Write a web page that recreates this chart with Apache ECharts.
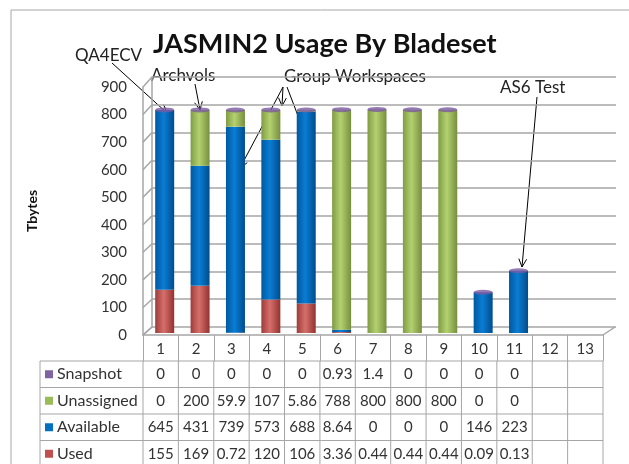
<!DOCTYPE html>
<html>
<head>
<meta charset="utf-8">
<script src="https://cdn.jsdelivr.net/npm/echarts@6/dist/echarts.min.js"></script>
<style>
html, body { margin: 0; padding: 0; background: #fff; }
#main { width: 629px; height: 464px; }
</style>
</head>
<body>
<div id="main"></div>
<script>
var chart = echarts.init(document.getElementById('main'));

var bladesets = ['1','2','3','4','5','6','7','8','9','10','11','12','13'];
var snapshot    = [0, 0, 0, 0, 0, 0.93, 1.4, 0, 0, 0, 0];
var unassigned  = [0, 200, 59.9, 107, 5.86, 788, 800, 800, 800, 0, 0];
var available   = [645, 431, 739, 573, 688, 8.64, 0, 0, 0, 146, 223];
var used        = [155, 169, 0.72, 120, 106, 3.36, 0.44, 0.44, 0.44, 0.09, 0.13];
var yTicks = [0, 100, 200, 300, 400, 500, 600, 700, 800, 900];

var FONT = 'Lato';
var GRAY = '#a6a6a6';
var TXT = '#333';

// totals for the top of each cylinder
var totals = [];
for (var i = 0; i < used.length; i++) {
    totals.push([i, used[i] + available[i] + unassigned[i] + snapshot[i]]);
}

function cyl(dark, light, dark2) {
    return new echarts.graphic.LinearGradient(0, 0, 1, 0, [
        {offset: 0, color: dark},
        {offset: 0.45, color: light},
        {offset: 1, color: dark2}
    ]);
}

// table below the plot
var tableLeft = 40, colStart = 143, colW = 460 / 13, rowTop = 361, rowH = 26.5;
var rows = [
    {name: 'Snapshot', color: '#8064A2', data: snapshot},
    {name: 'Unassigned', color: '#9BBB59', data: unassigned},
    {name: 'Available', color: '#0070C0', data: available},
    {name: 'Used', color: '#C0504D', data: used}
];
var graphics = [];
graphics.push({type: 'rect', shape: {x: 11, y: 10, width: 660, height: 480},
    style: {fill: 'none', stroke: GRAY, lineWidth: 1}, silent: true});
for (var r = 0; r <= rows.length; r++) {
    graphics.push({type: 'line', shape: {x1: tableLeft, y1: rowTop + r * rowH, x2: colStart + 13 * colW, y2: rowTop + r * rowH},
        style: {stroke: GRAY, lineWidth: 1}});
}
graphics.push({type: 'line', shape: {x1: tableLeft, y1: rowTop, x2: tableLeft, y2: 470}, style: {stroke: GRAY, lineWidth: 1}});
for (var c = 0; c <= 13; c++) {
    graphics.push({type: 'line', shape: {x1: colStart + c * colW, y1: rowTop, x2: colStart + c * colW, y2: 470},
        style: {stroke: GRAY, lineWidth: 1}});
}
rows.forEach(function (row, r) {
    var cy = rowTop + r * rowH + rowH / 2;
    graphics.push({type: 'rect', shape: {x: 45, y: cy - 4, width: 8, height: 8}, style: {fill: row.color}});
    graphics.push({type: 'text', x: 57, y: cy, style: {text: row.name, font: '16px ' + FONT, fill: TXT, verticalAlign: 'middle'}});
    row.data.forEach(function (v, k) {
        graphics.push({type: 'text', x: colStart + (k + 0.5) * colW, y: cy,
            style: {text: String(v), font: '15px ' + FONT, fill: TXT, align: 'center', verticalAlign: 'middle'}});
    });
});

// 3d floor / side wall edges
graphics.push({type: 'line', shape: {x1: 143, y1: 335, x2: 152, y2: 327}, style: {stroke: GRAY, lineWidth: 1.5}});
graphics.push({type: 'line', shape: {x1: 603, y1: 335, x2: 615, y2: 327}, style: {stroke: GRAY, lineWidth: 1.5}});
yTicks.forEach(function (v) {
    var yf = 335 - v * 248 / 900, yb = 327 - v * 250 / 900;
    graphics.push({type: 'line', shape: {x1: 143, y1: yf, x2: 152, y2: yb}, style: {stroke: GRAY, lineWidth: 1.5}});
});

// annotations
function arrow(x1, y1, x2, y2) {
    var a = Math.atan2(y2 - y1, x2 - x1), h = 9, s = 0.45;
    graphics.push({type: 'line', shape: {x1: x1, y1: y1, x2: x2, y2: y2}, style: {stroke: '#000', lineWidth: 1}});
    graphics.push({type: 'polyline', shape: {points: [
        [x2 - h * Math.cos(a - s), y2 - h * Math.sin(a - s)], [x2, y2],
        [x2 - h * Math.cos(a + s), y2 - h * Math.sin(a + s)]]},
        style: {stroke: '#000', lineWidth: 1, fill: 'none'}});
}
function note(txt, x, y) {
    graphics.push({type: 'text', x: x, y: y, style: {text: txt, font: '17px ' + FONT, fill: '#222', verticalAlign: 'middle'}});
}
note('QA4ECV', 75, 56);
note('Archvols', 151, 76);
note('Group Workspaces', 284, 77);
note('AS6 Test', 500, 88);
arrow(112, 63, 167, 113);
arrow(195, 84, 200, 110);
arrow(283, 87, 240, 168);
arrow(283, 87, 282, 106);
arrow(287, 87, 308, 142);
arrow(537, 97, 522, 267);

var option = {
    animation: false,
    title: {
        text: 'JASMIN2 Usage By Bladeset',
        left: 148, top: 26,
        textStyle: {fontFamily: FONT, fontWeight: 'bold', fontSize: 27, color: '#111'}
    },
    grid: [
        {left: 152, right: 13, top: 77, bottom: 137},
        {left: 143, right: 26, top: 87, bottom: 129},
        {left: 147, right: 22, top: 82, bottom: 131}
    ],
    xAxis: [
        {gridIndex: 0, type: 'category', data: bladesets, show: false},
        {gridIndex: 1, type: 'category', data: bladesets,
            axisLine: {show: true, lineStyle: {color: GRAY, width: 1.5}},
            axisTick: {show: true, interval: 0, length: 26, lineStyle: {color: GRAY}},
            axisLabel: {fontFamily: FONT, fontSize: 15, color: TXT, margin: 7}},
        {gridIndex: 2, type: 'category', data: bladesets, show: false}
    ],
    yAxis: [
        {gridIndex: 0, type: 'value', min: 0, max: 900, interval: 100,
            axisLabel: {show: false}, axisTick: {show: false},
            axisLine: {show: true, lineStyle: {color: GRAY, width: 1.5}},
            splitLine: {lineStyle: {color: GRAY, width: 1.5}}},
        {gridIndex: 1, type: 'value', min: 0, max: 900, interval: 100,
            name: 'Tbytes', nameLocation: 'middle', nameGap: 104, nameRotate: 90,
            nameTextStyle: {fontFamily: FONT, fontWeight: 'bold', fontSize: 14, color: '#111'},
            axisLabel: {fontFamily: FONT, fontSize: 15, color: TXT, margin: 16},
            axisTick: {show: false},
            axisLine: {show: true, lineStyle: {color: GRAY, width: 1.5}},
            splitLine: {show: false}},
        {gridIndex: 2, type: 'value', min: 0, max: 900, show: false, splitLine: {show: false}}
    ],
    series: [
        {name: 'Used', type: 'bar', stack: 'total', xAxisIndex: 2, yAxisIndex: 2, barWidth: 19,
            itemStyle: {color: cyl('#9e3b38', '#d56f6c', '#93322f')}, data: used},
        {name: 'Available', type: 'bar', stack: 'total', xAxisIndex: 2, yAxisIndex: 2, barWidth: 19,
            itemStyle: {color: cyl('#0058a0', '#0a7dd4', '#004c8c')}, data: available},
        {name: 'Unassigned', type: 'bar', stack: 'total', xAxisIndex: 2, yAxisIndex: 2, barWidth: 19,
            itemStyle: {color: cyl('#7f9c44', '#b4d170', '#768f3e')}, data: unassigned},
        {name: 'Snapshot', type: 'bar', stack: 'total', xAxisIndex: 2, yAxisIndex: 2, barWidth: 19,
            itemStyle: {color: '#7F60A0'}, data: snapshot},
        {name: 'top', type: 'scatter', xAxisIndex: 2, yAxisIndex: 2, symbol: 'circle', symbolSize: [19, 5],
            itemStyle: {color: '#7a5aa0'}, data: totals, z: 5}
    ],
    graphic: graphics
};
chart.setOption(option);
</script>
</body>
</html>
